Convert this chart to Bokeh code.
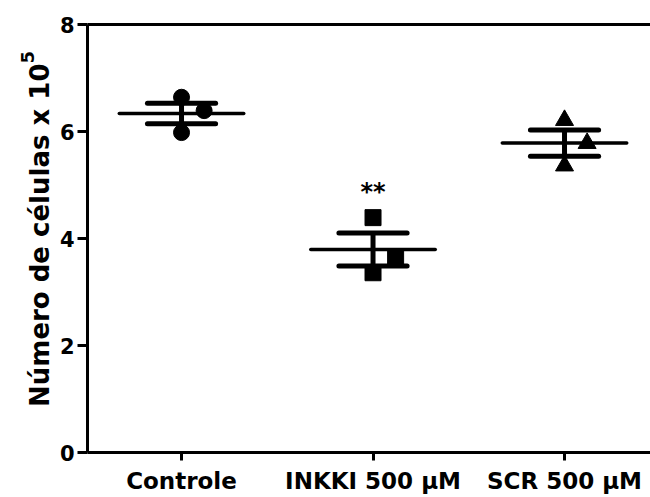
import numpy as np
from bokeh.plotting import figure
from bokeh.models import Range1d, FixedTicker, Label, LinearAxis
from bokeh.core.properties import value
from bokeh.embed import file_html
from bokeh.resources import INLINE

# ---- data ----
categories = ["Controle", "INKKI 500 μM", "SCR 500 μM"]
controle = [6.64, 6.39, 5.98]
inkki = [4.39, 3.63, 3.36]
scr = [6.21, 5.78, 5.36]
y_ticks = [0, 2, 4, 6, 8]
significance = ["", "**", ""]
y_title = "Número de células x 10"
y_title_exp = "5"

groups = [controle, inkki, scr]
markers = ["circle", "square", "triangle"]

# ---- layout / style constants ----
FONT = "DejaVu Sans"
W, H = 650, 497
point_offsets = [0.0, 0.118, 0.0]
mean_half = 0.325
sem_half = 0.178
X0, X1 = 0.509, 3.449            # extent of the drawn axes (x)
Y0, Y1 = y_ticks[0], y_ticks[-1]  # extent of the drawn axes (y)
AX_LEFT, AX_BOTTOM, AX_TOP = 87, 452, 24   # pixel position of the axes box
kx = (W - AX_LEFT) / (X1 - X0)
ky = (AX_BOTTOM - AX_TOP) / (Y1 - Y0)
XA = X0 - AX_LEFT / kx
YA = Y0 - (H - AX_BOTTOM) / ky


def px_x(px):
    return XA + px / kx


def px_y(py):
    return YA + (H - py) / ky


p = figure(width=W, height=H, output_backend="svg", toolbar_location=None,
           x_range=Range1d(XA, XA + W / kx), y_range=Range1d(YA, YA + H / ky),
           min_border=0, min_border_left=0, min_border_right=0,
           min_border_top=0, min_border_bottom=0)
p.outline_line_color = None
p.xgrid.visible = False
p.ygrid.visible = False
p.background_fill_color = "white"
p.border_fill_color = "white"

bottom_axis = p.below[0]
left_axis = p.left[0]
top_axis = LinearAxis()
p.add_layout(top_axis, "above")

for ax in (bottom_axis, left_axis, top_axis):
    ax.axis_line_width = 3
    ax.axis_line_color = "black"
    ax.major_tick_line_width = 3
    ax.major_tick_line_color = "black"
    ax.major_tick_in = 0
    ax.minor_tick_line_color = None
    ax.major_label_text_font = FONT
    ax.major_label_text_font_style = "bold"
    ax.major_label_text_color = "black"

left_axis.fixed_location = X0
left_axis.bounds = (Y0, Y1)
left_axis.ticker = FixedTicker(ticks=y_ticks)
left_axis.major_tick_out = 10
left_axis.major_label_text_font_size = "21px"
left_axis.major_label_standoff = 3

xpos = list(range(1, len(categories) + 1))
bottom_axis.fixed_location = Y0
bottom_axis.bounds = (X0, X1)
bottom_axis.ticker = FixedTicker(ticks=xpos)
bottom_axis.major_tick_out = 8
bottom_axis.major_label_overrides = {x: c for x, c in zip(xpos, categories)}
bottom_axis.major_label_text_font_size = "23px"
bottom_axis.major_label_standoff = 7

# top border of the axes box
top_axis.fixed_location = Y1
top_axis.bounds = (X0, X1)
top_axis.ticker = FixedTicker(ticks=[])
top_axis.major_label_text_font_size = "0px"

# rotated y-axis title with a real superscript
p.add_layout(Label(x=px_x(39.5), y=px_y(63), angle=np.pi / 2,
                   text=y_title, text_align="right", text_baseline="alphabetic",
                   text_font=FONT, text_font_style="bold", text_font_size="26px",
                   text_color="black"))
p.add_layout(Label(x=px_x(27), y=px_y(63), angle=np.pi / 2,
                   text=y_title_exp, text_align="left", text_baseline="alphabetic",
                   text_font=FONT, text_font_style="bold", text_font_size="18px",
                   text_color="black"))

for i, (vals, mk) in enumerate(zip(groups, markers)):
    xc = xpos[i]
    xs = [xc + o for o in point_offsets]
    size = {"circle": 16, "square": 16, "triangle": 18}[mk]
    p.scatter(xs, vals, marker=mk, size=size, color="black")
    arr = np.array(vals)
    m = arr.mean()
    sem = arr.std(ddof=1) / np.sqrt(len(arr))
    p.segment(x0=[xc - mean_half], y0=[m], x1=[xc + mean_half], y1=[m],
              line_color="black", line_width=3.5, line_cap="round")
    p.segment(x0=[xc - sem_half, xc - sem_half], y0=[m + sem, m - sem],
              x1=[xc + sem_half, xc + sem_half], y1=[m + sem, m - sem],
              line_color="black", line_width=5, line_cap="round")
    p.segment(x0=[xc], y0=[m - sem], x1=[xc], y1=[m + sem],
              line_color="black", line_width=5)
    if significance[i]:
        p.text(x=[xc], y=[max(vals) + 0.48], text=[significance[i]],
               text_font=value(FONT), text_font_style="bold", text_font_size="24px",
               text_align="center", text_baseline="alphabetic", text_color="black")

open("out.html", "w").write(file_html(p, INLINE))
